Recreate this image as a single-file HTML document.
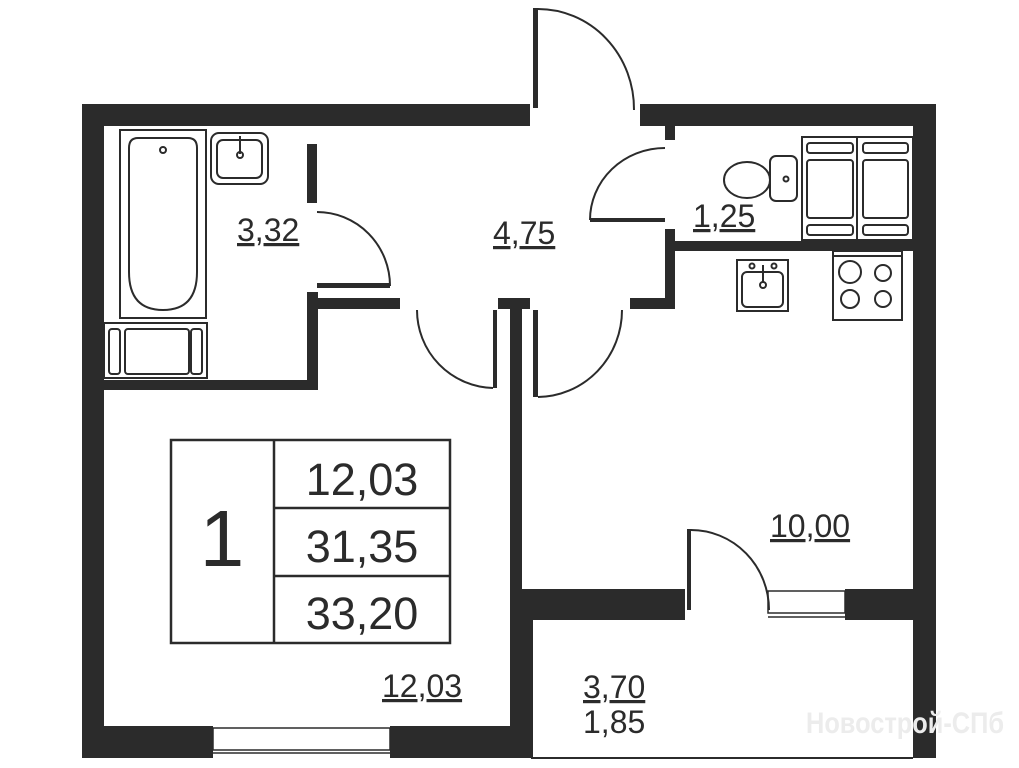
<!DOCTYPE html>
<html><head><meta charset="utf-8"><style>
html,body{margin:0;padding:0;background:#fff;}
svg{display:block;font-family:"Liberation Sans",Arial,sans-serif;}
</style></head><body>
<svg width="1019" height="768" viewBox="0 0 1019 768" xmlns="http://www.w3.org/2000/svg">
<g fill="#2b2b2b">
<rect x="82" y="104" width="448" height="22"/>
<rect x="640" y="104" width="296" height="22"/>
<rect x="82" y="104" width="22" height="654"/>
<rect x="913" y="104" width="23" height="654"/>
<rect x="82" y="726" width="131" height="32"/>
<rect x="390" y="726" width="142" height="32"/>
<rect x="104" y="380" width="214" height="10"/>
<rect x="307" y="292" width="11" height="98"/>
<rect x="307" y="144" width="10" height="59"/>
<rect x="318" y="298" width="82" height="11"/>
<rect x="317" y="283" width="73" height="5"/>
<rect x="498" y="298" width="32" height="11"/>
<rect x="510" y="298" width="12" height="292"/>
<rect x="493" y="310" width="4" height="78"/>
<rect x="533" y="310" width="5" height="87"/>
<rect x="665" y="126" width="10" height="14"/>
<rect x="665" y="229" width="10" height="80"/>
<rect x="665" y="241" width="248" height="10"/>
<rect x="630" y="298" width="45" height="11"/>
<rect x="590" y="218" width="75" height="4"/>
<rect x="510" y="589" width="175" height="31"/>
<rect x="845" y="589" width="68" height="31"/>
<rect x="510" y="589" width="22" height="137"/>
<rect x="687" y="529" width="4" height="81"/>
<rect x="533" y="8" width="5" height="100"/>
</g>
<g fill="none" stroke="#2b2b2b" stroke-width="2">
<path d="M538 9 A96 100 0 0 1 634 110"/>
<path d="M317 212 A73 74 0 0 1 390 286"/>
<path d="M417 310 A78 78 0 0 0 493 388"/>
<path d="M538 397 A85 87 0 0 0 622 310"/>
<path d="M665 148 A75 72 0 0 0 590 220"/>
<path d="M691 530 A78 80 0 0 1 769 610"/>
<path d="M532 620 V758 H913"/>
<rect x="213" y="728" width="177" height="22" stroke-width="1.5"/>
<line x1="213" y1="753" x2="390" y2="753" stroke-width="1.5"/>
<rect x="768" y="591" width="77" height="22" stroke-width="1.5"/>
<line x1="768" y1="617" x2="845" y2="617" stroke-width="1.5"/>
<rect x="120" y="130" width="86" height="188" stroke-width="2"/>
<path d="M138 138 H188 Q197 138 197 148 V272 Q197 310 163 310 Q129 310 129 272 V148 Q129 138 138 138 Z"/>
<circle cx="163" cy="150" r="3"/>
<rect x="211" y="133" width="57" height="51" rx="8"/>
<rect x="217" y="140" width="45" height="38" rx="6"/>
<line x1="240" y1="136" x2="240" y2="154"/>
<circle cx="240" cy="155" r="3"/>
<rect x="104" y="323" width="103" height="55"/>
<rect x="109" y="329" width="11" height="45" rx="3"/>
<rect x="125" y="329" width="64" height="45" rx="3"/>
<rect x="191" y="329" width="11" height="45" rx="3"/>
<rect x="770" y="156" width="27" height="45" rx="6"/>
<ellipse cx="747" cy="180" rx="23" ry="18"/>
<circle cx="786" cy="179" r="2.5"/>
<rect x="802" y="137" width="55" height="103"/>
<rect x="857" y="137" width="56" height="103"/>
<rect x="807" y="143" width="46" height="10" rx="3"/>
<rect x="807" y="160" width="46" height="58" rx="3"/>
<rect x="807" y="225" width="46" height="10" rx="3"/>
<rect x="863" y="143" width="45" height="10" rx="3"/>
<rect x="863" y="160" width="45" height="58" rx="3"/>
<rect x="863" y="225" width="45" height="10" rx="3"/>
<rect x="737" y="260" width="51" height="51"/>
<rect x="742" y="272" width="41" height="35" rx="5"/>
<line x1="763" y1="265" x2="763" y2="283"/>
<circle cx="763" cy="285" r="3"/>
<circle cx="752" cy="266" r="2.5"/>
<circle cx="774" cy="266" r="2.5"/>
<rect x="833" y="251" width="69" height="69"/>
<line x1="833" y1="256" x2="902" y2="256"/>
<circle cx="850" cy="272" r="11"/>
<circle cx="883" cy="273" r="8"/>
<circle cx="850" cy="299" r="9"/>
<circle cx="883" cy="299" r="8"/>
<rect x="171" y="440" width="279" height="203" stroke-width="2.5"/>
<line x1="274" y1="440" x2="274" y2="643" stroke-width="2.5"/>
<line x1="274" y1="508" x2="450" y2="508" stroke-width="2.5"/>
<line x1="274" y1="576" x2="450" y2="576" stroke-width="2.5"/>
</g>
<g fill="#2b2b2b">
<text x="222" y="566" font-size="80" text-anchor="middle">1</text>
<text x="362" y="495" font-size="45" text-anchor="middle">12,03</text>
<text x="362" y="562" font-size="45" text-anchor="middle">31,35</text>
<text x="362" y="629" font-size="45" text-anchor="middle">33,20</text>
<g font-size="32" text-decoration="underline">
<text x="237" y="241">3,32</text>
<text x="493" y="244">4,75</text>
<text x="693" y="227">1,25</text>
<text x="770" y="537">10,00</text>
<text x="382" y="697">12,03</text>
<text x="583" y="698">3,70</text>
</g>
<text x="583" y="733" font-size="32">1,85</text>
</g>
<text x="806" y="733" font-size="30" fill="#ececec" font-weight="bold" textLength="198" lengthAdjust="spacingAndGlyphs">Новострой-СПб</text>
</svg>
</body></html>
